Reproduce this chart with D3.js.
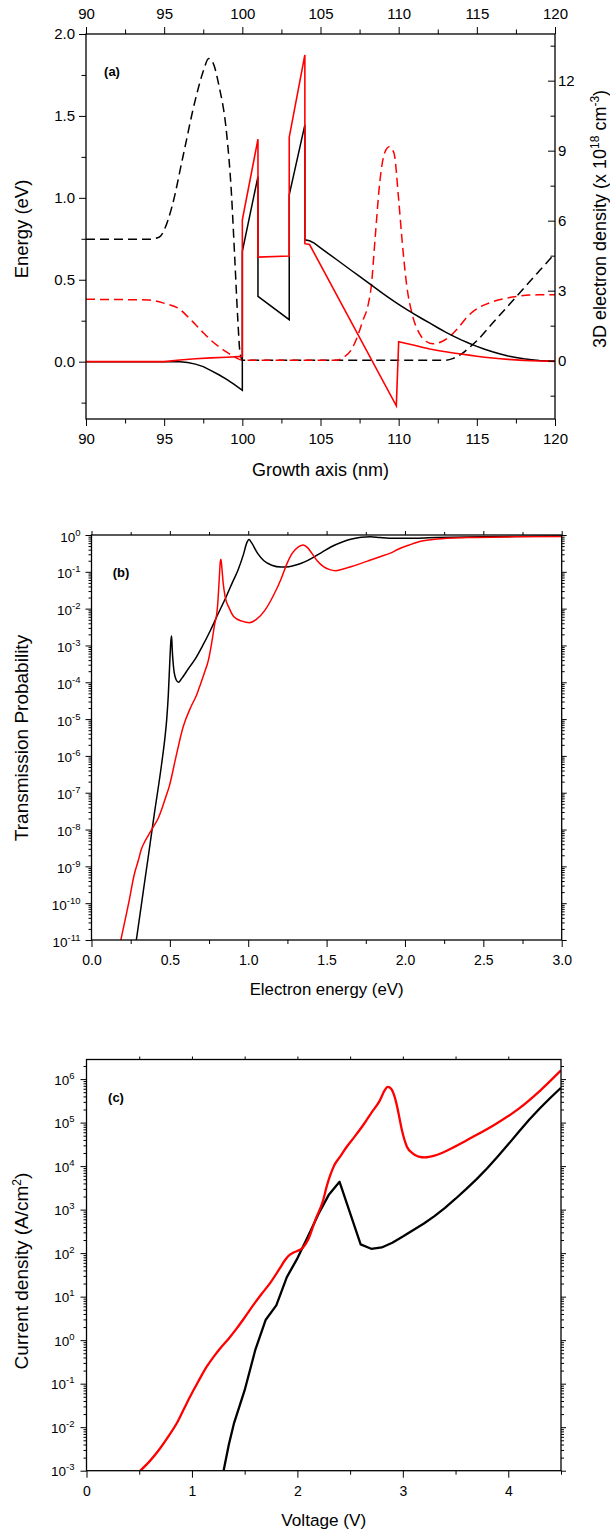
<!DOCTYPE html>
<html><head><meta charset="utf-8">
<script src="https://cdn.jsdelivr.net/npm/d3@7"></script>
<style>
body{margin:0;background:#fff;}
svg text{font-family:"Liberation Sans",Arial,Helvetica,sans-serif;fill:#000;}
</style></head><body>
<script>
// ---------- Panel (a) data: growth axis (nm) vs energy (eV) / density (1e18 cm^-3)
const aTicksMajor = [90,95,100,105,110,115,120];
const aTicksMinor = [92.5,97.5,102.5,107.5,112.5,117.5];
const aYMajor = [0,0.5,1.0,1.5,2.0];
const aYMinor = [-0.25,0.25,0.75,1.25,1.75];
const aY2Major = [0,3,6,9,12];
const aY2Minor = [-1.5,1.5,4.5,7.5,10.5,13.5];

const bandBlack = [[90,0],[95,0],[96,0],[96.5,-0.005],[97,-0.015],[97.5,-0.03],[98,-0.055],[98.5,-0.08],[99,-0.108],[99.5,-0.14],[100,-0.175],
 [100,0.673],[101,1.13],[101,0.398],[103,0.256],[103,1.018],[104,1.445],[104,0.744],[104.3,0.738],[104.6,0.724],[105,0.695],[105.5,0.66],
 [106,0.625],[106.5,0.59],[107,0.555],[107.5,0.52],[108,0.485],[108.5,0.45],[109,0.415],[109.5,0.382],[110,0.35],[110.5,0.319],[111,0.29],
 [111.5,0.262],[112,0.235],[112.5,0.207],[113,0.18],[113.5,0.156],[114,0.133],[114.5,0.112],[115,0.093],[115.5,0.076],[116,0.06],
 [116.5,0.047],[117,0.035],[117.5,0.026],[118,0.018],[118.5,0.012],[119,0.007],[119.5,0.004],[120,0.002]];
const bandRed = [[90,0],[95,0],[95.5,0.005],[96,0.01],[97,0.018],[98,0.023],[99,0.027],[100,0.032],
 [100,0.866],[101,1.358],[101,0.638],[103,0.645],[103,1.37],[104,1.872],[104,0.72],[104.3,0.715],[109.85,-0.27],
 [110,0.122],[110.5,0.111],[111,0.1],[111.5,0.088],[112,0.077],[112.5,0.068],[113,0.06],[113.5,0.053],[114,0.047],[114.5,0.04],
 [115,0.033],[115.5,0.027],[116,0.022],[116.5,0.018],[117,0.014],[117.5,0.011],[118,0.008],[118.5,0.006],[119,0.004],[119.5,0.003],[120,0.002]];
const densBlack = [[90,5.2],[94,5.2],[94.7,5.3],[95,5.6],[95.5,6.6],[96.2,8.74],[97,11.2],[97.5,12.4],[97.85,12.95],[98.1,12.8],[98.5,11.8],
 [99,9.7],[99.3,7.2],[99.5,4.6],[99.7,1.9],[99.85,0.35],[100,0.02],[113,0.02],[113.5,0.1],[114,0.28],[114.5,0.55],[115,0.85],[116,1.6],
 [117,2.35],[118,3.1],[119,3.85],[120,4.6]];
const densRed = [[90,2.63],[94,2.6],[95,2.46],[96,2.2],[96.5,1.89],[97,1.55],[97.5,1.2],[98,0.87],[98.5,0.6],[99,0.37],[99.5,0.16],[100,0.02],
 [106,0.02],[106.5,0.15],[107,0.5],[107.4,1.1],[107.7,1.7],[108.05,2.4],[108.25,3.2],[108.5,5.3],[108.8,7.7],[109.1,8.9],[109.4,9.17],
 [109.7,8.9],[110.0,6.9],[110.2,5.3],[110.5,3.3],[110.9,1.9],[111.3,1.2],[111.7,0.85],[112.2,0.72],[112.7,0.8],[113.2,1.0],[113.8,1.4],
 [114.4,1.89],[115.2,2.3],[115.9,2.5],[117.4,2.74],[118.9,2.82],[120,2.82]];

// ---------- Panel (b) data: electron energy (eV) vs log10 transmission
const bTicksMajor = [0,0.5,1.0,1.5,2.0,2.5,3.0];
const bTicksMinor = [0.25,0.75,1.25,1.75,2.25,2.75];
const bDecades = [-11,-10,-9,-8,-7,-6,-5,-4,-3,-2,-1,0];
const transBlackLog = [[0.286,-11],[0.32,-9.99],[0.36,-8.8],[0.40,-7.6],[0.448,-6.2],[0.47,-5.45],[0.48,-5.0],[0.49,-4.35],[0.50,-3.4],
 [0.507,-2.85],[0.511,-2.74],[0.515,-3.1],[0.525,-3.65],[0.54,-3.93],[0.555,-4.0],[0.575,-3.9],[0.62,-3.62],[0.66,-3.38],[0.71,-3.0],
 [0.76,-2.58],[0.81,-2.12],[0.86,-1.67],[0.90,-1.28],[0.935,-0.95],[0.97,-0.52],[0.99,-0.22],[1.005,-0.12],[1.02,-0.2],[1.06,-0.5],
 [1.10,-0.7],[1.15,-0.82],[1.21,-0.87],[1.26,-0.86],[1.31,-0.81],[1.36,-0.73],[1.41,-0.62],[1.47,-0.47],[1.53,-0.32],[1.6,-0.19],
 [1.66,-0.11],[1.72,-0.06],[1.78,-0.045],[1.84,-0.07],[1.9,-0.09],[2.0,-0.09],[2.2,-0.07],[2.5,-0.05],[3.0,-0.03]];
const transRedLog = [[0.187,-11],[0.237,-10.0],[0.274,-9.2],[0.30,-8.82],[0.316,-8.56],[0.34,-8.33],[0.361,-8.17],[0.398,-7.9],[0.425,-7.7],
 [0.448,-7.45],[0.475,-7.1],[0.498,-6.8],[0.535,-6.1],[0.585,-5.21],[0.634,-4.67],[0.67,-4.35],[0.697,-4.03],[0.72,-3.75],[0.746,-3.4],
 [0.77,-2.85],[0.783,-2.49],[0.804,-1.95],[0.815,-1.2],[0.822,-0.72],[0.826,-0.66],[0.832,-0.9],[0.84,-1.3],[0.853,-1.68],[0.88,-2.0],
 [0.908,-2.22],[0.96,-2.34],[1.007,-2.38],[1.05,-2.3],[1.107,-2.04],[1.16,-1.65],[1.207,-1.22],[1.25,-0.75],[1.28,-0.5],[1.32,-0.32],
 [1.351,-0.27],[1.38,-0.35],[1.406,-0.5],[1.44,-0.7],[1.48,-0.86],[1.52,-0.94],[1.555,-0.97],[1.60,-0.93],[1.655,-0.86],[1.72,-0.77],
 [1.78,-0.68],[1.84,-0.59],[1.903,-0.5],[1.96,-0.38],[2.028,-0.27],[2.1,-0.17],[2.2,-0.11],[2.4,-0.07],[2.7,-0.05],[3.0,-0.04]];

// ---------- Panel (c) data: voltage (V) vs log10 current density (A/cm2)
const cTicksMajor = [0,1,2,3,4];
const cTicksMinor = [0.5,1.5,2.5,3.5,4.5];
const cTicksTop = [0.5,1,1.5,2,2.5,3,3.5,4];
const cDecades = [-3,-2,-1,0,1,2,3,4,5,6];
const currentRedLog = [[0.51,-3],[0.6,-2.78],[0.697,-2.49],[0.78,-2.2],[0.856,-1.91],[0.92,-1.6],[0.982,-1.3],[1.06,-0.95],[1.14,-0.61],
 [1.2,-0.4],[1.267,-0.19],[1.35,0.04],[1.425,0.27],[1.5,0.52],[1.583,0.81],[1.66,1.06],[1.741,1.31],[1.836,1.66],[1.88,1.83],
 [1.912,1.93],[1.96,2.01],[2.0,2.05],[2.05,2.12],[2.1,2.3],[2.17,2.76],[2.245,3.22],[2.28,3.55],[2.31,3.78],[2.35,4.02],[2.4,4.2],
 [2.47,4.45],[2.55,4.7],[2.626,4.95],[2.7,5.22],[2.78,5.5],[2.83,5.75],[2.854,5.82],[2.88,5.8],[2.91,5.68],[2.94,5.43],[2.965,5.14],
 [2.99,4.84],[3.04,4.44],[3.09,4.3],[3.15,4.22],[3.21,4.2],[3.3,4.24],[3.43,4.37],[3.61,4.6],[3.87,4.95],[4.1,5.32],[4.3,5.73],[4.5,6.2]];
const currentBlackLog = [[1.3,-3],[1.35,-2.4],[1.4,-1.9],[1.5,-1.15],[1.6,-0.23],[1.7,0.47],[1.8,0.8],[1.9,1.45],[2.0,1.88],[2.1,2.38],
 [2.2,2.9],[2.3,3.35],[2.4,3.64],[2.6,2.2],[2.7,2.1],[2.8,2.13],[2.9,2.24],[3.0,2.38],[3.1,2.53],[3.2,2.68],[3.3,2.85],[3.4,3.04],
 [3.5,3.25],[3.6,3.47],[3.7,3.7],[3.8,3.95],[3.9,4.22],[4.0,4.5],[4.1,4.79],[4.2,5.07],[4.3,5.33],[4.4,5.57],[4.5,5.8]];

// ---------- drawing
const W = 610, H = 1535;
const FONT = '"Liberation Sans", Arial, Helvetica, sans-serif';
const svg = d3.select("body").append("svg").attr("width", W).attr("height", H);

function axis(gen, scale, vals, size, opts) {
  opts = opts || {};
  const a = gen(scale).tickValues(vals).tickSizeInner(size).tickSizeOuter(0)
    .tickPadding(opts.pad == null ? 3 : opts.pad)
    .tickFormat(opts.fmt || (() => ""));
  const g = svg.append("g").attr("transform", opts.t || null).call(a);
  g.select(".domain").remove();
  g.attr("font-family", FONT).attr("font-size", opts.fs || 14);
  g.selectAll("line").attr("stroke", "#000").attr("stroke-width", 1);
  g.selectAll("text").attr("fill", "#000");
  return g;
}
function frame(x0, y0, x1, y1) {
  svg.append("rect").attr("x", x0).attr("y", y0).attr("width", x1 - x0).attr("height", y1 - y0)
    .attr("fill", "none").attr("stroke", "#000").attr("stroke-width", 1.3);
}
function clip(id, x0, y0, x1, y1) {
  svg.append("clipPath").attr("id", id).append("rect").attr("x", x0).attr("y", y0).attr("width", x1 - x0).attr("height", y1 - y0);
}
function label(txt, x, y, fs, rot, bold) {
  const t = svg.append("text").attr("font-size", fs).attr("text-anchor", "middle")
    .attr("transform", `translate(${x},${y})` + (rot ? " rotate(-90)" : ""));
  if (bold) t.attr("font-weight", "bold");
  if (typeof txt === "string") t.text(txt);
  else txt.forEach(p => { const s = t.append("tspan").text(p.t); if (p.fs) s.attr("font-size", p.fs); if (p.dy) s.attr("dy", p.dy); });
  return t;
}
function logLabels(scale, decs, xEnd, dyBase, fs, sfs) {
  decs.forEach(e => {
    const t = svg.append("text").attr("x", xEnd).attr("y", scale(Math.pow(10, e)) + dyBase)
      .attr("text-anchor", "end").attr("font-size", fs);
    t.append("tspan").text("10");
    t.append("tspan").attr("font-size", sfs).attr("dy", -6).text(String(e));
  });
}
function minorLog(decs, top) {
  const out = [];
  decs.forEach(d => { for (let k = 2; k <= 9; k++) { const v = k * Math.pow(10, d); if (v <= top) out.push(v); } });
  return out;
}

// ===== Panel (a)
const aL = 86, aR = 555, aT = 34, aB = 419;
const xA = d3.scaleLinear().domain([90, 120]).range([aL, aR]);
const yA = d3.scaleLinear().domain([-0.35, 2.0]).range([aB, aT]);
const yA2 = d3.scaleLinear().domain([-2.5, 14]).range([aB, aT]);
clip("clipA", aL, aT, aR, aB);
const gA = svg.append("g").attr("clip-path", "url(#clipA)");
const lineA = d3.line().x(d => xA(d[0])).y(d => yA(d[1]));
const lineA2 = d3.line().x(d => xA(d[0])).y(d => yA2(d[1])).curve(d3.curveMonotoneX);
gA.append("path").attr("d", lineA2(densBlack)).attr("fill", "none").attr("stroke", "#000").attr("stroke-width", 1.5).attr("stroke-dasharray", "9,5");
gA.append("path").attr("d", lineA2(densRed)).attr("fill", "none").attr("stroke", "#ff0000").attr("stroke-width", 1.5).attr("stroke-dasharray", "9,5");
gA.append("path").attr("d", lineA(bandBlack)).attr("fill", "none").attr("stroke", "#000").attr("stroke-width", 1.5);
gA.append("path").attr("d", lineA(bandRed)).attr("fill", "none").attr("stroke", "#ff0000").attr("stroke-width", 1.6);

axis(d3.axisBottom, xA, aTicksMajor, 7, { t: `translate(0,${aB})`, fmt: d3.format("d"), pad: 7, fs: 15 });
axis(d3.axisBottom, xA, aTicksMinor, 4.5, { t: `translate(0,${aB})` });
axis(d3.axisTop, xA, aTicksMajor, 7, { t: `translate(0,${aT})`, fmt: d3.format("d"), pad: 8.5, fs: 15 });
axis(d3.axisTop, xA, aTicksMinor, 4.5, { t: `translate(0,${aT})` });
axis(d3.axisLeft, yA, aYMajor, 7, { t: `translate(${aL},0)`, fmt: d3.format(".1f"), pad: 4, fs: 15 });
axis(d3.axisLeft, yA, aYMinor, 4.5, { t: `translate(${aL},0)` });
axis(d3.axisRight, yA2, aY2Major, -7, { t: `translate(${aR},0)`, fmt: d3.format("d"), pad: 3, fs: 15 });
axis(d3.axisRight, yA2, aY2Minor, -4.5, { t: `translate(${aR},0)` });
frame(aL, aT, aR, aB);
label("(a)", 112, 76, 13, false, true);
label("Growth axis (nm)", (aL + aR) / 2, 476, 18);
label("Energy (eV)", 28, 229, 18.5, true);
label([{ t: "3D electron density (x 10" }, { t: "18", fs: 12, dy: -7 }, { t: " cm", dy: 7 }, { t: "-3", fs: 12, dy: -7 }, { t: ")", dy: 7 }],
  606, 219, 18, true);

// ===== Panel (b)
const bL = 91.5, bR = 561.7, bT = 535, bB = 940;
const xB = d3.scaleLinear().domain([0, 3]).range([bL, bR]);
const yB = d3.scaleLog().domain([1e-11, 1]).range([bB, bT]);
clip("clipB", bL, bT - 2, bR, bB);
const gB = svg.append("g").attr("clip-path", "url(#clipB)");
const lineB = d3.line().x(d => xB(d[0])).y(d => yB(Math.pow(10, d[1]))).curve(d3.curveMonotoneX);
gB.append("path").attr("d", lineB(transBlackLog)).attr("fill", "none").attr("stroke", "#000").attr("stroke-width", 1.5);
gB.append("path").attr("d", lineB(transRedLog)).attr("fill", "none").attr("stroke", "#ff0000").attr("stroke-width", 1.5);

const bMajorVals = bDecades.map(e => Math.pow(10, e));
const bMinorVals = minorLog(bDecades.slice(0, -1), 1);
axis(d3.axisBottom, xB, bTicksMajor, 7, { t: `translate(0,${bB})`, fmt: d3.format(".1f"), pad: 8, fs: 14 });
axis(d3.axisBottom, xB, bTicksMinor, 4, { t: `translate(0,${bB})` });
axis(d3.axisTop, xB, bTicksMajor, 4, { t: `translate(0,${bT})` });
axis(d3.axisTop, xB, bTicksMinor, 3, { t: `translate(0,${bT})` });
axis(d3.axisLeft, yB, bMajorVals, 6, { t: `translate(${bL},0)` });
axis(d3.axisLeft, yB, bMinorVals, 3, { t: `translate(${bL},0)` });
axis(d3.axisRight, yB, bMajorVals, 5, { t: `translate(${bR},0)` });
axis(d3.axisRight, yB, bMinorVals, 3, { t: `translate(${bR},0)` });
frame(bL, bT, bR, bB);
logLabels(yB, bDecades, bL - 11, 6.5, 13.5, 9.5);
label("(b)", 121, 577, 13, false, true);
label("Electron energy (eV)", (bL + bR) / 2, 995, 16.8);
label("Transmission Probability", 28, 738, 19, true);

// ===== Panel (c)
const cL = 86.5, cR = 561, cT = 1059.5, cB = 1470.7;
const xC = d3.scaleLinear().domain([0, 4.5]).range([cL, cR]);
const yC = d3.scaleLog().domain([1e-3, Math.pow(10, 6.45)]).range([cB, cT]);
clip("clipC", cL, cT, cR, cB);
const gC = svg.append("g").attr("clip-path", "url(#clipC)");
const lineCr = d3.line().x(d => xC(d[0])).y(d => yC(Math.pow(10, d[1]))).curve(d3.curveMonotoneX);
const lineCb = d3.line().x(d => xC(d[0])).y(d => yC(Math.pow(10, d[1])));
gC.append("path").attr("d", lineCb(currentBlackLog)).attr("fill", "none").attr("stroke", "#000").attr("stroke-width", 2.3).attr("stroke-linejoin", "round");
gC.append("path").attr("d", lineCr(currentRedLog)).attr("fill", "none").attr("stroke", "#ff0000").attr("stroke-width", 2.3);

const cMajorVals = cDecades.map(e => Math.pow(10, e));
const cMinorVals = minorLog(cDecades, Math.pow(10, 6.45));
axis(d3.axisBottom, xC, cTicksMajor, 7, { t: `translate(0,${cB})`, fmt: d3.format("d"), pad: 8, fs: 14 });
axis(d3.axisBottom, xC, cTicksMinor, 4, { t: `translate(0,${cB})` });
axis(d3.axisTop, xC, cTicksTop, 3, { t: `translate(0,${cT})` });
axis(d3.axisLeft, yC, cMajorVals, 6, { t: `translate(${cL},0)` });
axis(d3.axisLeft, yC, cMinorVals, 3, { t: `translate(${cL},0)` });
axis(d3.axisRight, yC, cMajorVals, 5, { t: `translate(${cR},0)` });
axis(d3.axisRight, yC, cMinorVals, 3, { t: `translate(${cR},0)` });
frame(cL, cT, cR, cB);
logLabels(yC, cDecades, cL - 12, 5.5, 13.5, 9.5);
label("(c)", 116, 1102, 13, false, true);
label("Voltage (V)", (cL + cR) / 2, 1526, 17.2);
label([{ t: "Current density (A/cm" }, { t: "2", fs: 12, dy: -7 }, { t: ")", dy: 7 }], 28, 1271, 19, true);
</script></body></html>
